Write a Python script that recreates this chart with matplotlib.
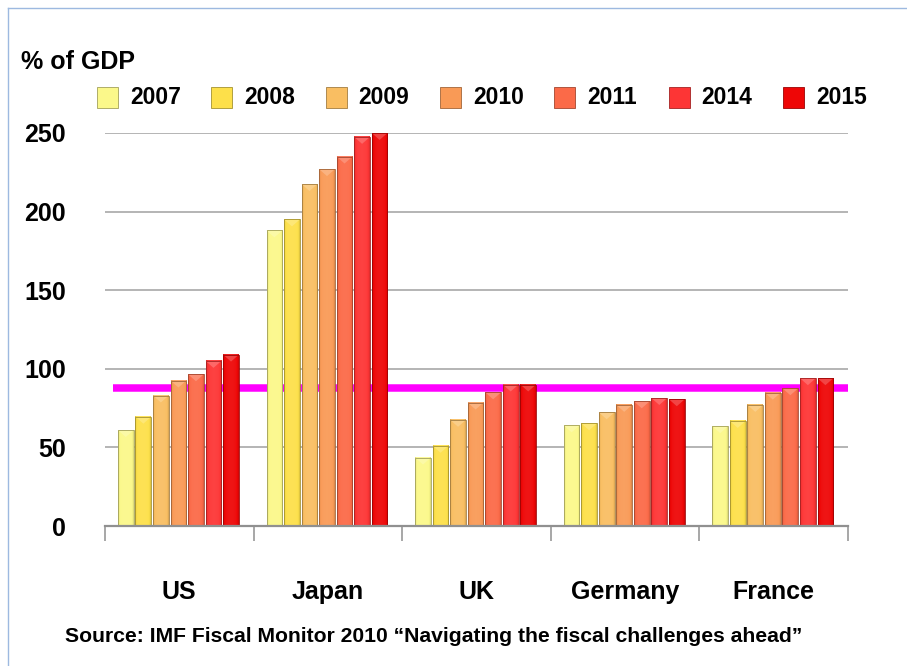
import numpy as np
import matplotlib
matplotlib.use("Agg")
import matplotlib.pyplot as plt
from matplotlib.patches import Rectangle, Polygon
from matplotlib.lines import Line2D
from matplotlib.colors import to_rgb

plt.rcParams['font.family'] = ['Liberation Sans', 'DejaVu Sans']
plt.rcParams['font.weight'] = 'bold'

# Gross government debt, % of GDP
countries = ["US", "Japan", "UK", "Germany", "France"]
years = ["2007", "2008", "2009", "2010", "2011", "2014", "2015"]
debt = {
    "2007": [61, 188, 43.5, 64, 63.5],
    "2008": [69.5, 195, 51, 65.3, 66.8],
    "2009": [83, 217.5, 67.5, 72.3, 77],
    "2010": [92.5, 227, 78.5, 77, 84.8],
    "2011": [96.5, 235, 85, 79.3, 87.6],
    "2014": [105, 247.5, 90, 81.4, 94],
    "2015": [109, 250, 90, 80.6, 94],
}
threshold = 88
y_ticks = [0, 50, 100, 150, 200, 250]
source_note = "Source: IMF Fiscal Monitor 2010 \u201cNavigating the fiscal challenges ahead\u201d"

colors = ["#FBF88A", "#FDE04A", "#F9BE62", "#F99A56", "#FB6A48", "#FD3535", "#EE0606"]

W, H = 907, 666
fig = plt.figure(figsize=(W / 100, H / 100), dpi=100)
fig.patch.set_facecolor("white")


def fx(px):
    return px / W


def fy(py):
    return 1 - py / H


ax = fig.add_axes([fx(105), fy(526), fx(848) - fx(105), fy(133) - fy(526)])
ax.set_xlim(0, len(countries))
ax.set_ylim(0, 250)

# grid
for t in y_ticks[1:]:
    ax.axhline(t, color="#A0A0A0", lw=1.1, zorder=1)

# reference line
ax.plot([0.054, len(countries)], [threshold, threshold], color="#FF00FF",
        lw=5.4, solid_capstyle="butt", zorder=2)


def shade(rgb, f):
    r = np.array(rgb)
    if f >= 0:
        return tuple(r + (1 - r) * f)
    return tuple(r * (1 + f))


group_left = 0.081
slot = 0.118
bw = 0.106
xs = np.arange(len(countries))
prof = np.linspace(-1, 1, 40)
fac = 0.06 * (1 - prof ** 2) - 0.16 * prof ** 8
for k, yr in enumerate(years):
    base = to_rgb(colors[k])
    pos = xs + group_left + slot * (k + 0.5)
    bars = ax.bar(pos, debt[yr], width=bw, color=colors[k],
                  edgecolor="none", zorder=3, clip_on=False)
    # horizontal shading across each bar
    grad = np.array([[shade(base, f) for f in fac]])
    for b in bars:
        x0, w, h = b.get_x(), b.get_width(), b.get_height()
        im = ax.imshow(grad, extent=[x0, x0 + w, 0, h], aspect="auto",
                       zorder=3.1, interpolation="bilinear", clip_on=False)
        im.set_clip_path(b)
        # bevelled top
        bev = 2.2
        tri = Polygon([[x0, h], [x0 + w, h], [x0 + w / 2, h - 2 * bev]],
                      closed=True, facecolor=shade(base, 0.3), edgecolor="none",
                      zorder=3.2, clip_on=False, alpha=0.8)
        ax.add_patch(tri)
        ax.add_patch(Rectangle((x0, 0), w, h, fill=False,
                               edgecolor=shade(base, -0.35), lw=0.6,
                               zorder=3.3, clip_on=False))

ax.set_xlim(0, len(countries))
ax.set_ylim(0, 250)

for s in ["top", "right", "left"]:
    ax.spines[s].set_visible(False)
ax.spines["bottom"].set_color("#909090")
ax.spines["bottom"].set_linewidth(1.6)
ax.spines["bottom"].set_zorder(4)

ax.set_xticks(np.arange(len(countries) + 1))
ax.set_xticklabels([])
ax.tick_params(axis="x", direction="out", length=11, width=1.1, color="#909090")
ax.set_yticks(y_ticks)
ax.set_yticklabels([str(t) for t in y_ticks], fontsize=18, fontweight="bold")
ax.tick_params(axis="y", length=0, pad=28)

for i, c in enumerate(countries):
    ax.annotate(c, xy=(i + 0.5, 0), xycoords=("data", "axes fraction"),
                xytext=(0, -47.5), textcoords="offset points",
                ha="center", va="center", fontsize=18, fontweight="bold")

# y-axis unit label
fig.text(fx(21), fy(62), "% of GDP", ha="left", va="center",
         fontsize=18, fontweight="bold")

# legend row
for k, yr in enumerate(years):
    left = 97 + 114.3 * k
    base = to_rgb(colors[k])
    fig.patches.append(Rectangle((fx(left), fy(108)), fx(21), fy(87) - fy(108),
                                 transform=fig.transFigure, facecolor=colors[k],
                                 edgecolor=shade(base, -0.35), lw=0.6))
    fig.text(fx(left + 33), fy(98), yr, ha="left", va="center",
             fontsize=16.5, fontweight="bold")

fig.text(fx(434), fy(636), source_note, ha="center", va="center",
         fontsize=15.2, fontweight="bold")

# frame lines
fig.add_artist(Line2D([fx(8), fx(8)], [0, fy(8)], transform=fig.transFigure,
                      color="#9DB9E0", lw=1.0))
fig.add_artist(Line2D([fx(8), 1], [fy(8), fy(8)], transform=fig.transFigure,
                      color="#9DB9E0", lw=1.0))

fig.savefig("out.png", dpi=100, facecolor="white")
